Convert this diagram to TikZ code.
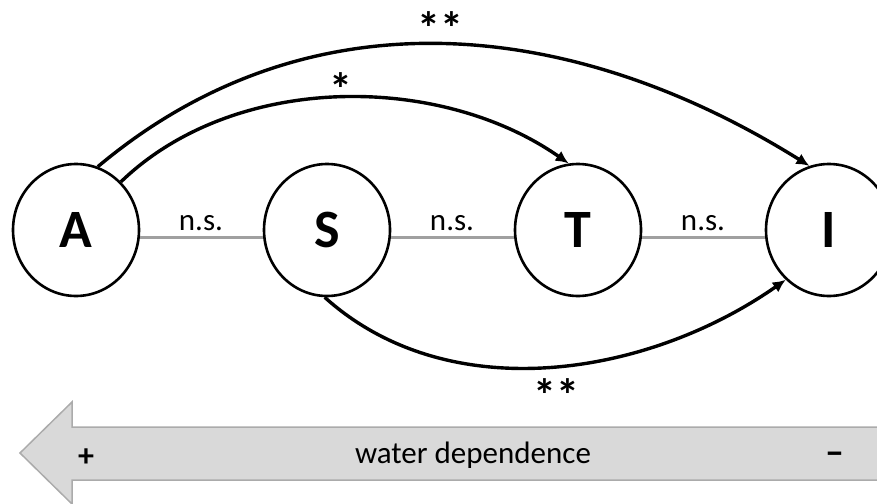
\documentclass[tikz,border=0pt]{standalone}
\usepackage{fontspec}
\setmainfont{Carlito}
\usetikzlibrary{shapes.geometric,arrows.meta}
\definecolor{linkgray}{HTML}{A0A0A0}
\definecolor{barfill}{HTML}{D9D9D9}
\definecolor{bardraw}{HTML}{ABABAB}
\begin{document}
\begin{tikzpicture}[x=1pt,y=1pt,
  vnode/.style={ellipse, draw=black, line width=2.6pt, minimum width=126pt, minimum height=132pt, inner sep=0pt, font=\fontsize{54}{60}\selectfont\bfseries},
  link/.style={draw=linkgray, line width=3pt},
  eff/.style={draw=black, line width=3.4pt, -{Latex[length=13pt,width=12pt]}},
  lab/.style={font=\fontsize{31}{36}\selectfont, anchor=base, inner sep=0pt},
  star/.style={font=\fontsize{46}{50}\selectfont\bfseries, anchor=base, inner sep=0pt},
  bartext/.style={font=\fontsize{31}{36}\selectfont, inner sep=0pt}]
\useasboundingbox (0,0) rectangle (877,-503);
% nodes
\node[vnode] (A) at (76,-230) {A};
\node[vnode] (S) at (327,-230) {S};
\node[vnode] (T) at (578,-230) {T};
\node[vnode] (I) at (829,-230) {I};
% gray links
\draw[link] ([yshift=-7pt]A.east) -- ([yshift=-7pt]S.west);
\draw[link] ([yshift=-7pt]S.east) -- ([yshift=-7pt]T.west);
\draw[link] ([yshift=-7pt]T.east) -- ([yshift=-7pt]I.west);
\node[lab] (ns1) at (201,-230) {n.s.};
\node[lab] (ns2) at (452,-230) {n.s.};
\node[lab] (ns3) at (703,-230) {n.s.};
% effect arrows
\draw[eff] (A.71) to[out=40,in=148] (I.107);
\draw[eff] (A.47) to[out=44,in=145,looseness=0.9] (T.98);
\draw[eff] (S.268) to[out=-42,in=215,looseness=0.93] (I.229);
\node[star] (s1) at (440,-45) {**};
\node[star] (s2) at (341,-105) {*};
\node[star] (s3) at (556,-411) {**};
% water dependence arrow
\draw[fill=barfill, draw=bardraw, line width=1.5pt]
  (20,-453) -- (72,-402) -- (72,-427) -- (885,-427) -- (885,-480) -- (72,-480) -- (72,-504) -- cycle;
\node[bartext, anchor=base] (wd) at (473,-463) {water dependence};
\node[bartext, font=\fontsize{32}{36}\selectfont\bfseries] (plus) at (86,-458) {+};
\node[bartext, font=\fontsize{38}{40}\selectfont\bfseries] (minus) at (835,-458) {–};
\end{tikzpicture}
\end{document}
